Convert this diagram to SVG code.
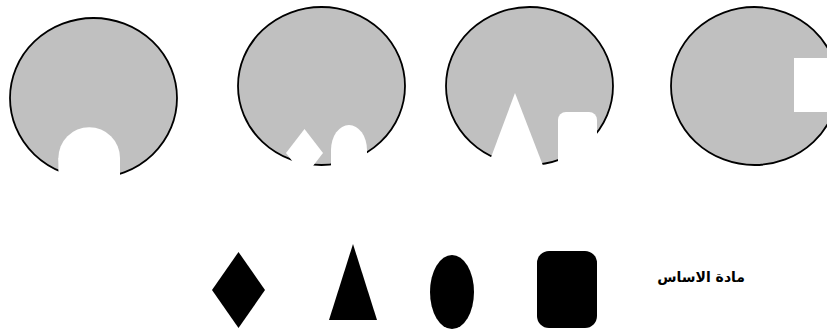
<svg xmlns="http://www.w3.org/2000/svg" width="827" height="329" viewBox="0 0 827 329">
<style>
.disc{fill:#c0c0c0;stroke:#000;stroke-width:1.8}
.cut{fill:#fff;stroke:none}
.solid{fill:#000;stroke:none}
.label{font-family:"DejaVu Sans","Noto Sans",sans-serif;font-weight:bold;font-size:14px;fill:#000}
</style>
<rect width="827" height="329" fill="#fff"/>
<g id="disc1">
<ellipse class="disc" cx="93.5" cy="98" rx="83.5" ry="80"/>
<circle class="cut" cx="89.2" cy="158" r="30.8"/>
<rect class="cut" x="58.4" y="158" width="61.6" height="32"/>
</g>
<g id="disc2">
<ellipse class="disc" cx="321.5" cy="86" rx="83.5" ry="79"/>
<polygon class="cut" points="304.5,129 323,153 304.5,177 286,153"/>
<ellipse class="cut" cx="349" cy="150" rx="18" ry="25"/>
<rect class="cut" x="331" y="150" width="36" height="30"/>
</g>
<g id="disc3">
<ellipse class="disc" cx="529.5" cy="86" rx="83.5" ry="79"/>
<polygon class="cut" points="515,93 547,176 484,176"/>
<rect class="cut" x="558" y="112" width="39" height="70" rx="8" ry="8"/>
</g>
<g id="disc4">
<ellipse class="disc" cx="754.5" cy="86" rx="83.5" ry="79"/>
<rect class="cut" x="794" y="58" width="40" height="54"/>
</g>
<g id="diamond">
<polygon class="solid" points="238.5,252 265,290 238.5,328 212,290"/>
</g>
<g id="triangle">
<polygon class="solid" points="353,244 377,320 329,320"/>
</g>
<g id="oval">
<ellipse class="solid" cx="452" cy="292" rx="22" ry="37"/>
</g>
<g id="square">
<rect class="solid" x="537" y="251" width="60" height="77" rx="12" ry="12"/>
</g>
<g id="base-label">
<text class="label" x="745" y="282" text-anchor="end">مادة الاساس</text>
</g>
</svg>
